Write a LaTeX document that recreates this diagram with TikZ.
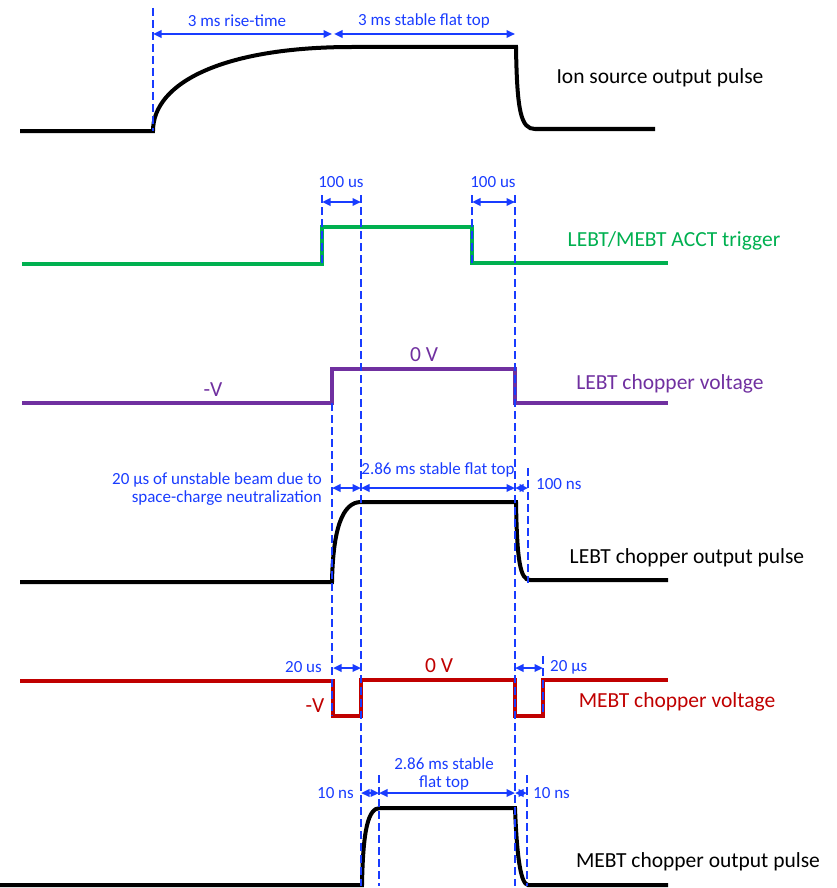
\documentclass[tikz,border=0pt]{standalone}
\usepackage{fontspec}
\setmainfont{Carlito}
\usetikzlibrary{arrows.meta}
\definecolor{dimblue}{RGB}{25,60,255}
\definecolor{trigreen}{RGB}{0,176,80}
\definecolor{lebtpurple}{RGB}{112,48,160}
\definecolor{mebtred}{RGB}{192,0,0}

\begin{document}
\begin{tikzpicture}[x=1pt,y=-1pt,
  sig/.style={line width=4pt},
  guide/.style={dimblue,line width=2.6pt,dash pattern=on 8pt off 4pt},
  dim/.style={dimblue,line width=2.2pt,{Triangle[length=8.5pt,width=7.5pt]}-{Triangle[length=8.5pt,width=7.5pt]}},
  biglbl/.style={font=\fontsize{21.5}{26}\selectfont,inner sep=0},
  smalllbl/.style={dimblue,font=\fontsize{17}{18}\selectfont,inner sep=0}]
\useasboundingbox(0,0)rectangle(837,888);
% waveforms
\draw[sig](20,131)--(153,131)..controls(153,82)and(225,47)..(352,47)--(516,47)..controls(517,112)and(521,129)..(535,129)--(655,129);
\draw[sig,trigreen](22,264)--(322,264)--(322,227)--(472,227)--(472,263)--(668,263);
\draw[sig,lebtpurple](22,403)--(332,403)--(332,369)--(515,369)--(515,403)--(668,403);
\draw[sig](20,582)--(332,582)..controls(333,530)and(342,502)..(361,502)--(516,502)..controls(517,560)and(520,580)..(530,580)--(668,580);
\draw[sig,mebtred](20,681)--(333,681)--(333,716)--(361,716)--(361,680)--(515,680)--(515,716)--(543,716)--(543,680)--(668,680);
\draw[sig](0,885)--(362,885)..controls(363,830)and(368,808)..(380,808)--(515,808)..controls(517,860)and(521,884)..(528,885)--(668,885);
% timing guides
\foreach \gx/\gtop/\gbot in {153/8/131,322/195/265,472/195/265,361/195/886,515/195/886,332/403/716,528/468/583,543/656/716,379/775/886,527/775/886}
  \draw[guide](\gx,\gtop)--(\gx,\gbot);
% dimension arrows
\path(153,34)coordinate(ion0)(333,34)coordinate(ion1)(515,34)coordinate(ion2);
\draw[dim,shorten >=1pt](ion0)--(ion1);\draw[dim,shorten <=1pt](ion1)--(ion2);
\path(322,202)coordinate(acc0)(361,202)coordinate(acc1)(472,202)coordinate(acc2)(515,202)coordinate(acc3);
\draw[dim](acc0)--(acc1);\draw[dim](acc2)--(acc3);
\path(332,488)coordinate(lo0)(361,488)coordinate(lo1)(515,488)coordinate(lo2)(528,488)coordinate(lo3);
\draw[dim](lo0)--(lo1);\draw[dim](lo1)--(lo2);\draw[dim](lo2)--(lo3);
\path(333,668)coordinate(mv0)(361,668)coordinate(mv1)(515,668)coordinate(mv2)(543,668)coordinate(mv3);
\draw[dim](mv0)--(mv1);\draw[dim](mv2)--(mv3);
\path(361,793)coordinate(mo0)(379,793)coordinate(mo1)(515,793)coordinate(mo2)(527,793)coordinate(mo3);
\draw[dim](mo0)--(mo1);\draw[dim](mo1)--(mo2);\draw[dim](mo2)--(mo3);
% labels
\node[smalllbl](risetxt)at(237,21){3 ms rise-time};\node[smalllbl](flattxt)at(424,21){3 ms stable flat top};
\node[biglbl](ionlbl)at(660,78){Ion source output pulse};
\node[smalllbl](acctxt1)at(341,182){100 us};\node[smalllbl](acctxt2)at(493,182){100 us};
\node[biglbl,trigreen](acclbl)at(674,241){LEBT/MEBT ACCT trigger};
\node[biglbl,lebtpurple](lvneg)at(213,390){-V};\node[biglbl,lebtpurple](lvzero)at(424,355){0 V};
\node[biglbl,lebtpurple](lvlbl)at(670,384){LEBT chopper voltage};
\node[smalllbl](lotop)at(438,470){2.86 ms stable flat top};
\node[smalllbl,align=right,anchor=east](lounst)at(322,489){20 µs of unstable beam due to\\space-charge neutralization};
\node[smalllbl,anchor=west](lofall)at(536,484){100 ns};
\node[biglbl](lolbl)at(687,558){LEBT chopper output pulse};
\node[smalllbl,anchor=east](mvtxt1)at(322,667){20 us};\node[smalllbl,anchor=west](mvtxt2)at(550,667){20 µs};
\node[biglbl,mebtred](mvzero)at(439,666){0 V};\node[biglbl,mebtred](mvneg)at(315,706){-V};
\node[biglbl,mebtred](mvlbl)at(677,702){MEBT chopper voltage};
\node[smalllbl,align=center](motop)at(444,774){2.86 ms stable\\flat top};
\node[smalllbl,anchor=east](morise)at(354,793){10 ns};\node[smalllbl,anchor=west](mofall)at(533,793){10 ns};
\node[biglbl](molbl)at(698,862){MEBT chopper output pulse};
\end{tikzpicture}
\end{document}
